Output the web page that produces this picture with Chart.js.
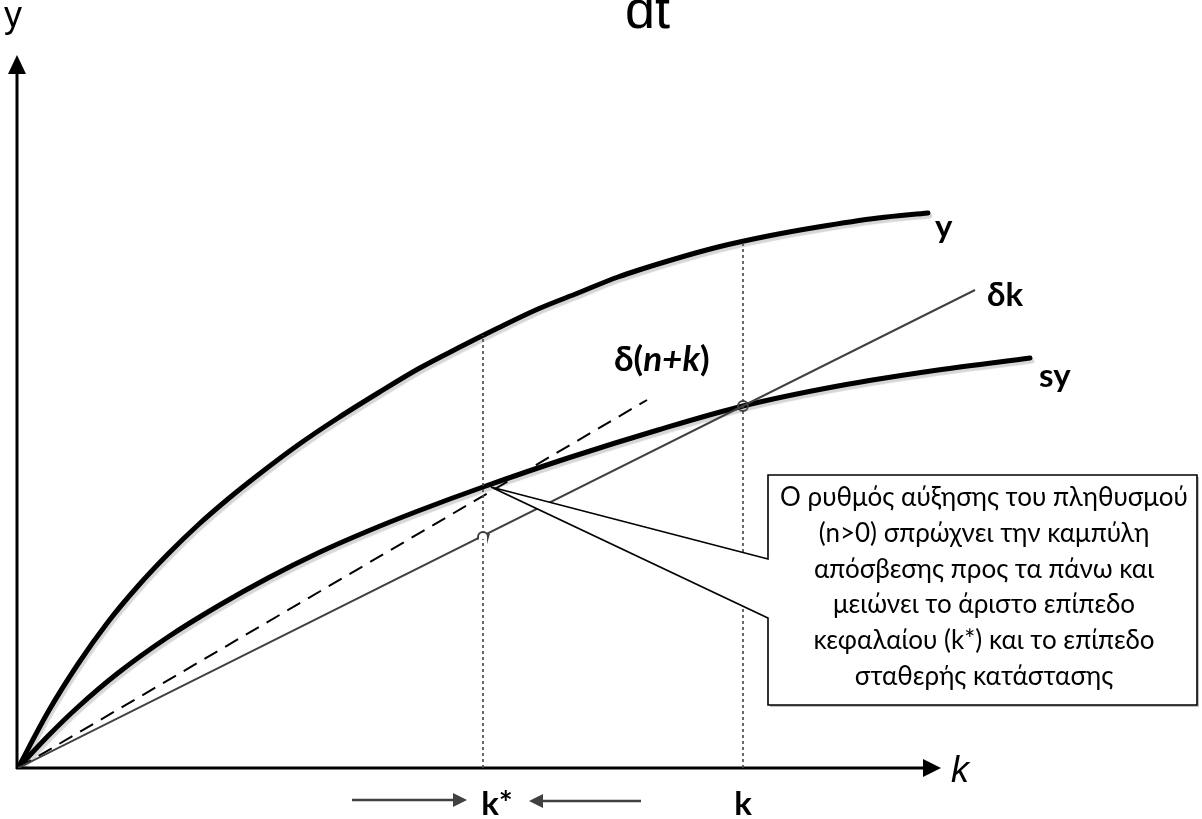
<!DOCTYPE html>
<html>
<head>
<meta charset="utf-8">
<style>
  html, body { margin: 0; padding: 0; background: #ffffff; }
  #wrap { width: 1202px; height: 819px; position: relative; }
</style>
<script src="https://cdn.jsdelivr.net/npm/chart.js@4/dist/chart.umd.min.js"></script>
</head>
<body>
<div id="wrap"><canvas id="c" width="1202" height="819"></canvas></div>
<script>
// Capital per worker (k) and the curves of the Solow diagram
const outputK   = [0, 3, 6, 9, 12, 15, 18, 21, 24, 28, 32, 36, 40, 44, 48, 52, 56, 60, 65, 70, 75, 80, 86, 91];
const outputY   = [0, 5.6, 10.4, 14.6, 18.2, 21.4, 24.3, 26.9, 29.3, 32.3, 35.0, 37.5, 39.9, 42.0, 44.0, 45.9, 47.5, 49.1, 50.7, 52.1, 53.2, 54.1, 55.0, 55.5];
const savingK   = [0, 3, 6, 10, 15, 20, 25, 30, 35, 40, 46.5, 55, 64, 72.5, 82, 92, 101.2];
const savingY   = [0, 3.2, 6.1, 9.5, 13.1, 16.2, 19.0, 21.5, 23.7, 25.7, 28.1, 31.0, 33.8, 36.2, 38.2, 39.8, 41.0];
const deprK     = [0, 95.7];
const deprY     = [0, 47.8];
const deprPopK  = [0, 62.9];
const deprPopY  = [0, 36.8];
const kStar     = 46.5;   // steady state with population growth
const kOld      = 72.5;   // steady state without population growth
const kStarTop  = 43.3;
const kOldTop   = 52.7;
const kStarSav  = 28.1;
const kStarDepr = 23.2;
const kOldCross = 36.2;

const curveLabels = ['y', 'δk', 'sy'];
const tickLabels  = ['k*', 'k'];
const noteLines = [
  'Ο ρυθμός αύξησης του πληθυσμού',
  '(n>0) σπρώχνει την καμπύλη',
  'απόσβεσης προς τα πάνω και',
  'μειώνει το άριστο επίπεδο',
  'κεφαλαίου (k*) και το επίπεδο',
  'σταθερής κατάστασης'
];

const pts = (xs, ys) => xs.map((x, i) => ({ x: x, y: ys[i] }));

const LABEL_FONT = 'bold 33px Lato, "Open Sans", sans-serif';
const EQ_FONT = 'bold 35px Lato, "Open Sans", sans-serif';

const shadowPlugin = {
  id: 'curveShadow',
  beforeDatasetDraw(chart, args) {
    const ds = chart.data.datasets[args.index];
    if (ds.shadow) {
      const ctx = chart.ctx;
      ctx.save();
      ctx.shadowColor = 'rgba(0,0,0,0.16)';
      ctx.shadowOffsetX = 2;
      ctx.shadowOffsetY = 3;
      ctx.shadowBlur = 1;
    }
  },
  afterDatasetDraw(chart, args) {
    const ds = chart.data.datasets[args.index];
    if (ds.shadow) chart.ctx.restore();
  }
};

function arrowHead(ctx, x, y, dir, len, half) {
  ctx.beginPath();
  if (dir === 'up') {
    ctx.moveTo(x, y); ctx.lineTo(x - half, y + len); ctx.lineTo(x + half, y + len);
  } else if (dir === 'right') {
    ctx.moveTo(x, y); ctx.lineTo(x - len, y - half); ctx.lineTo(x - len, y + half);
  } else {
    ctx.moveTo(x, y); ctx.lineTo(x + len, y - half); ctx.lineTo(x + len, y + half);
  }
  ctx.closePath();
  ctx.fill();
}

const decorPlugin = {
  id: 'decor',
  beforeDatasetsDraw(chart) {
    const ctx = chart.ctx;
    const xs = chart.scales.x, ys = chart.scales.y;
    const ox = xs.getPixelForValue(0), oy = ys.getPixelForValue(0);
    ctx.save();
    ctx.strokeStyle = '#000';
    ctx.fillStyle = '#000';
    ctx.lineWidth = 3;
    // vertical axis with arrow
    ctx.beginPath();
    ctx.moveTo(ox - 1, oy + 1);
    ctx.lineTo(ox - 1, 70);
    ctx.stroke();
    arrowHead(ctx, ox - 1, 55, 'up', 19, 9);
    // horizontal axis with arrow
    ctx.beginPath();
    ctx.moveTo(ox - 2, oy);
    ctx.lineTo(925, oy);
    ctx.stroke();
    arrowHead(ctx, 941, oy, 'right', 18, 9);
    ctx.restore();
  },
  afterDatasetsDraw(chart) {
    const ctx = chart.ctx;
    const xs = chart.scales.x, ys = chart.scales.y;
    const px = v => xs.getPixelForValue(v);
    const py = v => ys.getPixelForValue(v);
    ctx.save();

    // line hop of δk over the k* guide
    const hx = px(kStar), hy = py(kStarDepr);
    ctx.fillStyle = '#fff';
    ctx.fillRect(hx - 4, hy - 3, 8, 6);
    ctx.strokeStyle = '#404040';
    ctx.lineWidth = 2;
    ctx.beginPath();
    ctx.moveTo(hx - 6, hy + 3);
    ctx.lineTo(hx - 5, hy + 2.5);
    ctx.arc(hx, hy + 1, 5, Math.PI, 0, false);
    ctx.lineTo(hx + 6, hy - 2.5);
    ctx.stroke();

    // small marker where δk meets sy
    ctx.beginPath();
    ctx.arc(px(kOld), py(kOldCross), 5, 0, Math.PI * 2);
    ctx.lineWidth = 1.8;
    ctx.strokeStyle = '#404040';
    ctx.stroke();

    // callout box with its pointer
    const tipX = px(kStar) + 8, tipY = py(kStarSav);
    const bx = 768, by = 475, bw = 429, bh = 230;
    ctx.fillStyle = '#fff';
    ctx.strokeStyle = '#000';
    ctx.lineWidth = 1.6;
    ctx.beginPath();
    ctx.moveTo(bx, by);
    ctx.lineTo(bx + bw, by);
    ctx.lineTo(bx + bw, by + bh);
    ctx.lineTo(bx, by + bh);
    ctx.lineTo(bx, 618);
    ctx.lineTo(tipX, tipY);
    ctx.lineTo(bx, 559);
    ctx.closePath();
    ctx.shadowColor = 'rgba(0,0,0,0.25)';
    ctx.shadowOffsetX = 2;
    ctx.shadowOffsetY = 2;
    ctx.fill();
    ctx.shadowColor = 'transparent';
    ctx.stroke();

    ctx.fillStyle = '#000';
    ctx.font = '26px Lato, "Open Sans", sans-serif';
    ctx.textAlign = 'center';
    ctx.textBaseline = 'alphabetic';
    noteLines.forEach((t, i) => ctx.fillText(t, 984, 506 + i * 35.8));

    // curve labels
    ctx.textAlign = 'left';
    ctx.font = LABEL_FONT;
    ctx.fillText(curveLabels[0], 935, 238);
    ctx.fillText(curveLabels[1], 987, 306);
    ctx.fillText(curveLabels[2], 1039, 387);

    // δ(n+k) with italic n and k
    let lx = 614;
    const ly = 371;
    const parts = [['δ(', false], ['n+k', true], [')', false]];
    parts.forEach(([s, it]) => {
      ctx.font = (it ? 'italic ' : '') + EQ_FONT;
      ctx.fillText(s, lx, ly);
      lx += ctx.measureText(s).width;
    });

    // steady-state ticks under the axis
    ctx.font = LABEL_FONT;
    ctx.textAlign = 'center';
    ctx.fillText(tickLabels[0], px(kStar) + 14, 815);
    ctx.fillText(tickLabels[1], px(kOld), 815);

    // arrows converging on k*
    ctx.strokeStyle = '#404040';
    ctx.fillStyle = '#404040';
    ctx.lineWidth = 2.5;
    ctx.beginPath();
    ctx.moveTo(352, 800); ctx.lineTo(454, 800); ctx.stroke();
    arrowHead(ctx, 467, 800, 'right', 14, 7);
    ctx.beginPath();
    ctx.moveTo(542, 801); ctx.lineTo(641, 801); ctx.stroke();
    arrowHead(ctx, 529, 801, 'left', 14, 7);

    // axis names
    ctx.fillStyle = '#000';
    ctx.textAlign = 'left';
    ctx.font = '36px "Liberation Sans", Arial, sans-serif';
    ctx.fillText('y', 4, 27);
    ctx.font = 'italic 36px "Liberation Sans", Arial, sans-serif';
    ctx.fillText('k', 951, 782);
    ctx.font = '54px "Liberation Sans", Arial, sans-serif';
    ctx.fillText('dt', 625, 28);
    ctx.restore();
  }
};

new Chart(document.getElementById('c'), {
  type: 'scatter',
  data: {
    datasets: [
      { label: 'k* guide', data: [{ x: kStar, y: 0 }, { x: kStar, y: kStarTop }], showLine: true,
        borderColor: '#444', borderWidth: 1.6, borderDash: [3, 3], pointRadius: 0 },
      { label: 'k guide', data: [{ x: kOld, y: 0 }, { x: kOld, y: kOldTop }], showLine: true,
        borderColor: '#444', borderWidth: 1.6, borderDash: [3, 3], pointRadius: 0 },
      { label: 'δk', data: pts(deprK, deprY), showLine: true,
        borderColor: '#404040', borderWidth: 2, pointRadius: 0 },
      { label: 'δ(n+k)', data: pts(deprPopK, deprPopY), showLine: true,
        borderColor: '#000', borderWidth: 2, borderDash: [15, 9], pointRadius: 0 },
      { label: 'sy', data: pts(savingK, savingY), showLine: true, shadow: true,
        borderColor: '#000', borderWidth: 5, pointRadius: 0, cubicInterpolationMode: 'monotone',
        borderCapStyle: 'round' },
      { label: 'y', data: pts(outputK, outputY), showLine: true, shadow: true,
        borderColor: '#000', borderWidth: 5, pointRadius: 0, cubicInterpolationMode: 'monotone',
        borderCapStyle: 'round' }
    ]
  },
  options: {
    responsive: false,
    animation: false,
    layout: { padding: { left: 18, right: 84, top: 18, bottom: 51 } },
    scales: {
      x: { type: 'linear', min: 0, max: 110, display: false },
      y: { type: 'linear', min: 0, max: 75, display: false }
    },
    plugins: { legend: { display: false }, tooltip: { enabled: false } }
  },
  plugins: [shadowPlugin, decorPlugin]
});
</script>
</body>
</html>
